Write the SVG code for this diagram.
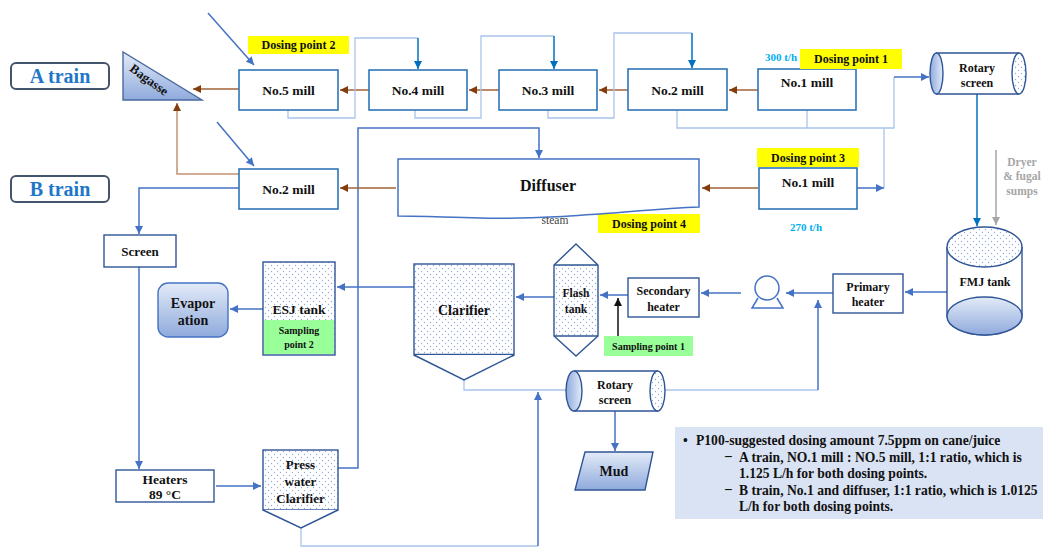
<svg xmlns="http://www.w3.org/2000/svg" width="1045" height="548" viewBox="0 0 1045 548">
<style>
text{font-family:"Liberation Serif","Times New Roman",serif;font-weight:bold;fill:#111;text-anchor:middle}
.mill{fill:#fff;stroke:#2e75b6;stroke-width:1.6}
.box{fill:#fff;stroke:#2f5597;stroke-width:1.4}
.dot{fill:url(#dots);stroke:#2f5597;stroke-width:1.4}
.yel{fill:#ffff00}
.grn{fill:#99ff99}
.c{fill:none;stroke-width:1.5}
.blue{stroke:#4472c4}
.dark{stroke:#0070c0}
.light{stroke:#a9c4eb;stroke-width:1.3}
.brown{stroke:#a0623a}
.brownl{stroke:#c49372}
.gray{stroke:#a6a6a6}
.blk{stroke:#111}
.m{font-size:13.5px}
.s{font-size:12px}
.dp{font-size:12px}
.tr{font-size:20px;fill:#1f77c8}
.cy{font-size:11px;fill:#00b0f0}
.note{font-size:13.6px;text-anchor:start}
</style>
<defs>
<pattern id="dots" width="6" height="6" patternUnits="userSpaceOnUse">
<rect width="6" height="6" fill="#fff"/>
<circle cx="1.5" cy="1.5" r="0.65" fill="#8faadc"/>
<circle cx="4.5" cy="4.5" r="0.65" fill="#8faadc"/>
</pattern>
<linearGradient id="gb" x1="0" y1="0" x2="0" y2="1">
<stop offset="0" stop-color="#e3ebf8"/>
<stop offset="1" stop-color="#8faadc"/>
</linearGradient>
<linearGradient id="gh" x1="0" y1="0" x2="1" y2="0">
<stop offset="0" stop-color="#8faadc"/>
<stop offset="1" stop-color="#e3ebf8"/>
</linearGradient>
<marker id="ab" viewBox="0 0 10 10" refX="10" refY="5" markerWidth="9" markerHeight="8" orient="auto" markerUnits="userSpaceOnUse"><path d="M0,0 L10,5 L0,10 z" fill="#4472c4"/></marker>
<marker id="ad" viewBox="0 0 10 10" refX="10" refY="5" markerWidth="9" markerHeight="8" orient="auto" markerUnits="userSpaceOnUse"><path d="M0,0 L10,5 L0,10 z" fill="#0070c0"/></marker>
<marker id="ar" viewBox="0 0 10 10" refX="10" refY="5" markerWidth="9" markerHeight="8" orient="auto" markerUnits="userSpaceOnUse"><path d="M0,0 L10,5 L0,10 z" fill="#843c0c"/></marker>
<marker id="ag" viewBox="0 0 10 10" refX="10" refY="5" markerWidth="9" markerHeight="8" orient="auto" markerUnits="userSpaceOnUse"><path d="M0,0 L10,5 L0,10 z" fill="#a6a6a6"/></marker>
<marker id="ak" viewBox="0 0 10 10" refX="10" refY="5" markerWidth="9" markerHeight="8" orient="auto" markerUnits="userSpaceOnUse"><path d="M0,0 L10,5 L0,10 z" fill="#111"/></marker>
</defs>
<rect width="1045" height="548" fill="#fff"/>

<g id="connectors">
<path class="c blue" d="M208,13 L254,65" marker-end="url(#ab)"/>
<path class="c blue" d="M217,122 L254,166" marker-end="url(#ab)"/>
<path class="c brown" d="M239,89 H193" marker-end="url(#ar)"/>
<path class="c brown" d="M369,90 H340" marker-end="url(#ar)"/>
<path class="c brown" d="M499,90 H469" marker-end="url(#ar)"/>
<path class="c brown" d="M628,90 H599" marker-end="url(#ar)"/>
<path class="c brown" d="M758,90 H729" marker-end="url(#ar)"/>
<path class="c light" d="M288,110 V118 H355 V38 H418"/>
<path class="c dark" d="M418,38 V69" marker-end="url(#ad)"/>
<path class="c light" d="M415,110 V118 H481 V36 H554"/>
<path class="c dark" d="M554,36 V69" marker-end="url(#ad)"/>
<path class="c light" d="M548,110 V118 H614 V33 H692"/>
<path class="c dark" d="M692,33 V68" marker-end="url(#ad)"/>
<path class="c light" d="M677,110 V128 H894 V77"/>
<path class="c light" d="M807,110 V128"/>
<path class="c blue" d="M894,77 H929" marker-end="url(#ab)"/>
<path class="c light" d="M884,128 V188"/>
<path class="c blue" d="M857,188 H884" marker-end="url(#ab)"/>
<path class="c dark" d="M977,94 V226" marker-end="url(#ad)"/>
<path class="c gray" d="M996,150 V225" marker-end="url(#ag)"/>
<path class="c blue" d="M947,292 H905" marker-end="url(#ab)"/>
<path class="c blue" d="M833,293 H786" marker-end="url(#ab)"/>
<path class="c blue" d="M741,293 H701" marker-end="url(#ab)"/>
<path class="c blue" d="M628,295 H600" marker-end="url(#ab)"/>
<path class="c blk" d="M618,336 V298" marker-end="url(#ak)"/>
<path class="c blue" d="M554,297 H516" marker-end="url(#ab)"/>
<path class="c blue" d="M414,287 H337" marker-end="url(#ab)"/>
<path class="c blue" d="M263,309 H230" marker-end="url(#ab)"/>
<path class="c blue" d="M338,468 H358 V128 H539 V158" marker-end="url(#ab)"/>
<path class="c brown" d="M396,188 H340" marker-end="url(#ar)"/>
<path class="c brown" d="M758,188 H702" marker-end="url(#ar)"/>
<path class="c brownl" d="M239,174 H177 V103" marker-end="url(#ar)"/>
<path class="c blue" d="M239,188 H139 V234" marker-end="url(#ab)"/>
<path class="c blue" d="M139,267 V469" marker-end="url(#ab)"/>
<path class="c blue" d="M216,486 H261" marker-end="url(#ab)"/>
<path class="c light" d="M301,528 V546 H538"/>
<path class="c blue" d="M538,546 V392" marker-end="url(#ab)"/>
<path class="c light" d="M464,380 V390 H566"/>
<path class="c light" d="M665,390 H818"/>
<path class="c blue" d="M818,390 V300" marker-end="url(#ab)"/>
<path class="c blue" d="M615,411 V451" marker-end="url(#ab)"/>
</g>

<g id="a-train">
<rect x="11" y="63" width="98" height="26" rx="5" fill="#fff" stroke="#44546a" stroke-width="2"/>
<text class="tr" x="60" y="83">A train</text>
</g>
<g id="b-train">
<rect x="11" y="176" width="98" height="26" rx="5" fill="#fff" stroke="#44546a" stroke-width="2"/>
<text class="tr" x="60" y="196">B train</text>
</g>
<g id="bagasse">
<polygon points="123,52 123,100 202,100" fill="url(#gb)" stroke="#4a6aa0" stroke-width="1.4"/>
<text x="149" y="84" font-size="13" transform="rotate(36 149 80)">Bagasse</text>
</g>

<g id="no5-mill"><rect class="mill" x="239" y="70" width="99" height="40"/><text class="m" x="288.5" y="95">No.5 mill</text></g>
<g id="no4-mill"><rect class="mill" x="369" y="70" width="98" height="40"/><text class="m" x="418" y="95">No.4 mill</text></g>
<g id="no3-mill"><rect class="mill" x="499" y="70" width="98" height="40"/><text class="m" x="548" y="95">No.3 mill</text></g>
<g id="no2-mill-a"><rect class="mill" x="628" y="69" width="99" height="41"/><text class="m" x="677.5" y="95">No.2 mill</text></g>
<g id="no1-mill-a"><rect class="mill" x="758" y="69" width="98" height="41"/><text class="m" x="807" y="87">No.1 mill</text></g>
<g id="no2-mill-b"><rect class="mill" x="239" y="169" width="99" height="40"/><text class="m" x="288.5" y="194">No.2 mill</text></g>
<g id="no1-mill-b"><rect class="mill" x="759" y="168" width="98" height="41"/><text class="m" x="808" y="187">No.1 mill</text></g>

<g id="dosing-point-2"><rect class="yel" x="248" y="36" width="101" height="18"/><text class="dp" x="298.5" y="49">Dosing point 2</text></g>
<g id="dosing-point-1"><rect class="yel" x="800" y="49" width="102" height="20"/><text class="dp" x="851" y="63">Dosing point 1</text></g>
<g id="dosing-point-3"><rect class="yel" x="757" y="148" width="102" height="19"/><text class="dp" x="808" y="162">Dosing point 3</text></g>
<g id="dosing-point-4"><rect class="yel" x="598" y="214" width="102" height="19"/><text class="dp" x="649" y="228">Dosing point 4</text></g>
<text class="cy" x="781" y="61">300 t/h</text>
<text class="cy" x="806" y="231">270 t/h</text>

<g id="rotary-screen-top">
<rect x="936" y="53" width="83" height="41" fill="#fff"/>
<path d="M936,53 H1019 M936,94 H1019" stroke="#2f5597" stroke-width="1.4" fill="none"/>
<ellipse cx="1019" cy="73.5" rx="7" ry="20.5" fill="url(#dots)" stroke="#2f5597" stroke-width="1.4"/>
<ellipse cx="936.5" cy="73.5" rx="6.5" ry="20.5" fill="url(#gh)" stroke="#2f5597" stroke-width="1.4"/>
<text class="s" x="977" y="72">Rotary</text>
<text class="s" x="977" y="87">screen</text>
</g>

<g id="diffuser">
<path d="M398,159 H699 V207 C640,209 560,220 480,218 C440,217 420,216 398,216 Z" fill="#fff" stroke="#4472c4" stroke-width="1.5"/>
<text x="548" y="191" font-size="16">Diffuser</text>
<text x="555" y="224" font-size="11.5" style="font-weight:normal;fill:#444">steam</text>
</g>

<g id="dryer-label">
<text x="1022" y="166" font-size="11.5" style="fill:#a6a6a6">Dryer</text>
<text x="1022" y="180" font-size="11.5" style="fill:#a6a6a6">&amp; fugal</text>
<text x="1022" y="195" font-size="11.5" style="fill:#a6a6a6">sumps</text>
</g>

<g id="fmj-tank">
<path d="M947,247 V316 A37.5,19 0 0 0 1022,316 V247" fill="#fff" stroke="#2f5597" stroke-width="1.4"/>
<ellipse cx="984.5" cy="316" rx="37.5" ry="19" fill="url(#gb)" stroke="#2f5597" stroke-width="1.4"/>
<ellipse cx="984.5" cy="247" rx="37.5" ry="20" fill="url(#dots)" stroke="#2f5597" stroke-width="1.4"/>
<text class="s" x="985" y="286">FMJ tank</text>
</g>

<g id="primary-heater"><rect class="box" x="833" y="274" width="70" height="39"/><text class="s" x="868" y="291">Primary</text><text class="s" x="868" y="306">heater</text></g>
<g id="pump">
<path d="M758,298 L752,308 H783 L777,298" fill="#fff" stroke="#4472c4" stroke-width="1.5"/>
<circle cx="767" cy="288" r="12" fill="#fff" stroke="#4472c4" stroke-width="1.5"/>
</g>
<g id="secondary-heater"><rect class="box" x="628" y="278" width="71" height="39"/><text class="s" x="663.5" y="295">Secondary</text><text class="s" x="663.5" y="311">heater</text></g>

<g id="flash-tank">
<rect x="554" y="265" width="44" height="71" fill="url(#dots)"/>
<polygon points="576,244 598,265 598,336 576,356 554,336 554,265" fill="none" stroke="#2f5597" stroke-width="1.4"/>
<path d="M554,265 H598 M554,336 H598" stroke="#2f5597" stroke-width="1.4"/>
<text x="576" y="297" font-size="11.5">Flash</text>
<text x="576" y="313" font-size="11.5">tank</text>
</g>
<g id="sampling-point-1"><rect class="grn" x="604" y="336" width="89" height="20"/><text x="648.5" y="350" font-size="10">Sampling point 1</text></g>

<g id="clarifier">
<rect class="dot" x="414" y="264" width="100" height="91"/>
<path d="M414,355 H514" stroke="#2f5597" stroke-width="2.5"/>
<path d="M414,355 L464,380 L514,355" fill="#fff" stroke="#2f5597" stroke-width="1.4"/>
<text x="464" y="315" font-size="14">Clarifier</text>
</g>

<g id="esj-tank">
<rect class="dot" x="263" y="262" width="72" height="93"/>
<rect class="grn" x="264" y="320" width="70" height="34"/>
<text x="299" y="314" font-size="13.5">ESJ tank</text>
<text x="299" y="334" font-size="10">Sampling</text>
<text x="299" y="348" font-size="10">point 2</text>
</g>

<g id="evaporation">
<rect x="158" y="283" width="70" height="54" rx="10" fill="url(#gb)" stroke="#4472c4" stroke-width="1.4"/>
<text x="193" y="308" font-size="14">Evapor</text>
<text x="193" y="325" font-size="14">ation</text>
</g>

<g id="screen"><rect class="box" x="104" y="235" width="72" height="32"/><text x="140" y="256" font-size="13">Screen</text></g>
<g id="heaters"><rect class="box" x="116" y="470" width="98" height="32"/><text x="165" y="484" font-size="13.5">Heaters</text><text x="165" y="499" font-size="13.5">89 °C</text></g>

<g id="press-water-clarifier">
<rect class="dot" x="263" y="450" width="75" height="60"/>
<path d="M263,510 L301,528 L338,510" fill="#fff" stroke="#2f5597" stroke-width="1.4"/>
<text x="300.5" y="469" font-size="13">Press</text>
<text x="300.5" y="486" font-size="13">water</text>
<text x="300.5" y="503" font-size="13">Clarifier</text>
</g>

<g id="rotary-screen-bottom">
<rect x="574" y="371" width="84" height="40" fill="#fff"/>
<path d="M574,371 H658 M574,411 H658" stroke="#2f5597" stroke-width="1.4" fill="none"/>
<ellipse cx="657.5" cy="391" rx="7.5" ry="20" fill="url(#dots)" stroke="#2f5597" stroke-width="1.4"/>
<ellipse cx="574" cy="391" rx="8" ry="20" fill="url(#gh)" stroke="#2f5597" stroke-width="1.4"/>
<text class="s" x="615" y="389">Rotary</text>
<text class="s" x="615" y="404">screen</text>
</g>

<g id="mud">
<polygon points="585,452 653,452 645,490 575,490" fill="url(#gb)" stroke="#2f5597" stroke-width="1.4"/>
<text x="614" y="476" font-size="14">Mud</text>
</g>

<g id="notes">
<rect x="675" y="427" width="368" height="92" fill="#dae3f3"/>
<text class="note" x="683" y="445">•</text>
<text class="note" x="696" y="445">P100-suggested dosing amount 7.5ppm on cane/juice</text>
<text class="note" x="725" y="460">–</text>
<text class="note" x="739" y="462">A train, NO.1 mill : NO.5 mill, 1:1 ratio, which is</text>
<text class="note" x="739" y="478">1.125 L/h for both dosing points.</text>
<text class="note" x="725" y="493">–</text>
<text class="note" x="739" y="495">B train, No.1 and diffuser, 1:1 ratio, which is 1.0125</text>
<text class="note" x="739" y="511">L/h for both dosing points.</text>
</g>
</svg>
